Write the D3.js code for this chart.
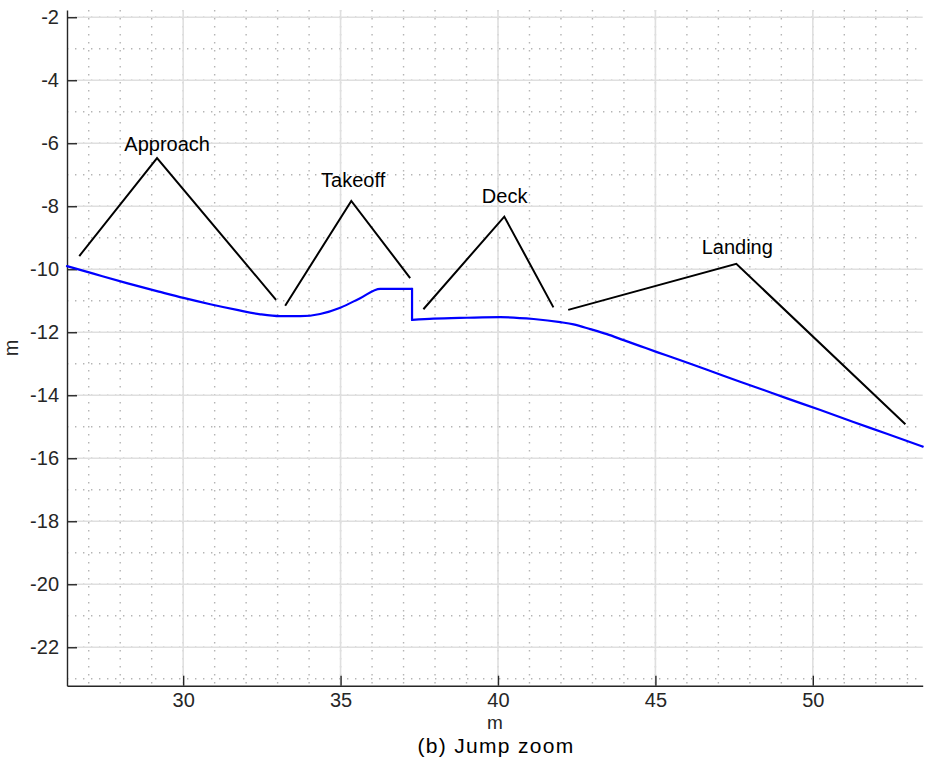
<!DOCTYPE html>
<html>
<head>
<meta charset="utf-8">
<script src="https://cdn.jsdelivr.net/npm/d3@7"></script>
<style>
  body { margin: 0; background: #fff; }
  text { font-family: "Liberation Sans", Arial, sans-serif; }
</style>
</head>
<body>
<div id="chart-area"></div>
<script>
// jump profile (m)
var profileX = [26.31, 27.15, 28.21, 29.27, 30.01, 30.86, 31.71, 32.45, 33.08, 33.72, 34.35, 34.99, 35.62, 36.26,
    37.27, 37.27, 37.95, 39.01, 40.07, 41.13, 41.98, 42.40, 42.93, 43.46, 43.99, 44.52, 45.05, 45.57, 46.11,
    46.64, 47.16, 47.69, 48.12, 49.18, 50.24, 51.29, 52.35, 53.49];
var profileY = [-9.90, -10.14, -10.44, -10.72, -10.91, -11.11, -11.29, -11.43, -11.49, -11.49, -11.42, -11.22, -10.92, -10.62,
    -10.62, -11.61, -11.57, -11.54, -11.52, -11.58, -11.68, -11.75, -11.90, -12.06, -12.25, -12.44, -12.63, -12.81, -13.00,
    -13.19, -13.38, -13.57, -13.72, -14.10, -14.47, -14.85, -15.22, -15.63];

// annotations
var labels = ['Approach', 'Takeoff', 'Deck', 'Landing'];
var labelX = [29.49, 35.40, 40.21, 47.60];
var labelY = [-6.24, -7.39, -7.90, -9.52];
var markX = [[26.70, 29.17, 32.95], [33.24, 35.34, 37.21], [37.63, 40.20, 41.76], [42.23, 47.57, 52.94]];
var markY = [[-9.58, -6.47, -10.97], [-11.16, -7.83, -10.28], [-11.27, -8.33, -11.21], [-11.29, -9.83, -14.92]];

var xTicks = [30, 35, 40, 45, 50];
var yTicks = [-2, -4, -6, -8, -10, -12, -14, -16, -18, -20, -22];
var xMinor = d3.range(27, 54, 1);
var yMinor = d3.range(-2, -24, -1);

var def = {
    width: 928,
    height: 770,
    left: 67,
    right: 922.7,
    top: 10,
    bottom: 685.7,
    font: '20px'
};

var svg = d3.select('#chart-area').append('svg')
    .attr('width', def.width)
    .attr('height', def.height);

var x = d3.scaleLinear()
    .domain([26.31, 53.49])
    .range([def.left, def.right]);

var y = d3.scaleLinear()
    .domain([-1.77, -23.22])
    .range([def.top, def.bottom]);

var grid = svg.append('g');

// minor grid, dotted
grid.selectAll('.vminor').data(xMinor).enter().append('line')
    .attr('x1', d => x(d)).attr('x2', d => x(d))
    .attr('y1', def.top).attr('y2', def.bottom)
    .attr('stroke', '#b4b4b4').attr('stroke-width', 1.4)
    .attr('stroke-dasharray', '1.4,6.6');
grid.selectAll('.hminor').data(yMinor).enter().append('line')
    .attr('y1', d => y(d)).attr('y2', d => y(d))
    .attr('x1', def.left).attr('x2', def.right)
    .attr('stroke', '#b4b4b4').attr('stroke-width', 1.4)
    .attr('stroke-dasharray', '1.4,6.6');

// major grid
grid.selectAll('.vmajor').data(xTicks).enter().append('line')
    .attr('x1', d => x(d)).attr('x2', d => x(d))
    .attr('y1', def.top).attr('y2', def.bottom)
    .attr('stroke', '#dfdfdf').attr('stroke-width', 1.6);
grid.selectAll('.hmajor').data(yTicks).enter().append('line')
    .attr('y1', d => y(d)).attr('y2', d => y(d))
    .attr('x1', def.left).attr('x2', def.right)
    .attr('stroke', '#dfdfdf').attr('stroke-width', 1.6);

// axes, ticks inside
var xAx = d3.axisBottom(x).tickValues(xTicks).tickSizeInner(-10).tickSizeOuter(0).tickPadding(7);
var yAx = d3.axisLeft(y).tickValues(yTicks).tickSizeInner(-10).tickSizeOuter(0).tickPadding(8)
    .tickFormat(d => d);

var xUnit = svg.append('g')
    .attr('transform', 'translate(0,' + def.bottom + ')')
    .call(xAx);
var yUnit = svg.append('g')
    .attr('transform', 'translate(' + def.left + ',0)')
    .call(yAx);

[xUnit, yUnit].forEach(ax => {
    ax.select('.domain').attr('stroke', '#262626').attr('stroke-width', 1.4);
    ax.selectAll('.tick line').attr('stroke', '#262626').attr('stroke-width', 1.4);
    ax.selectAll('.tick text')
        .attr('fill', '#262626')
        .attr('font-size', def.font)
        .attr('font-family', '"Liberation Sans", Arial, sans-serif');
});

// profile line: smooth pieces, straight drop at the deck edge
var pts = profileX.map((v, i) => [x(v), y(profileY[i])]);
var cut = profileX.findIndex((v, i) => i > 0 && v === profileX[i - 1]);
var smooth = d3.line().curve(d3.curveMonotoneX);
var pieces = [pts.slice(0, cut), pts.slice(cut)];

pieces.forEach(p => {
    svg.append('path')
        .attr('d', smooth(p))
        .attr('fill', 'none')
        .attr('stroke', '#0000ff')
        .attr('stroke-width', 2.2)
        .attr('stroke-linecap', 'round');
});
svg.append('path')
    .attr('d', d3.line()([pts[cut - 1], pts[cut]]))
    .attr('fill', 'none')
    .attr('stroke', '#0000ff')
    .attr('stroke-width', 2.2)
    .attr('stroke-linecap', 'round');

// annotation marks
labels.forEach((lab, i) => {
    var mk = markX[i].map((v, j) => [x(v), y(markY[i][j])]);
    svg.append('path')
        .attr('d', d3.line()(mk))
        .attr('fill', 'none')
        .attr('stroke', '#000')
        .attr('stroke-width', 2);
    svg.append('text')
        .attr('x', x(labelX[i]))
        .attr('y', y(labelY[i]))
        .attr('text-anchor', 'middle')
        .attr('font-size', def.font)
        .attr('fill', '#000')
        .text(lab);
});

// axis labels
svg.append('text')
    .attr('x', (def.left + def.right) / 2)
    .attr('y', 729)
    .attr('text-anchor', 'middle')
    .attr('font-size', '19px')
    .attr('fill', '#262626')
    .text('m');

svg.append('text')
    .attr('transform', 'translate(18,' + ((def.top + def.bottom) / 2) + ') rotate(-90)')
    .attr('text-anchor', 'middle')
    .attr('font-size', def.font)
    .attr('fill', '#262626')
    .text('m');

// caption
svg.append('text')
    .attr('x', 496)
    .attr('y', 753)
    .attr('text-anchor', 'middle')
    .attr('font-size', '21px')
    .attr('letter-spacing', '1.3px')
    .attr('font-family', '"DejaVu Sans", sans-serif')
    .attr('fill', '#000')
    .text('(b) Jump zoom');
</script>
</body>
</html>
